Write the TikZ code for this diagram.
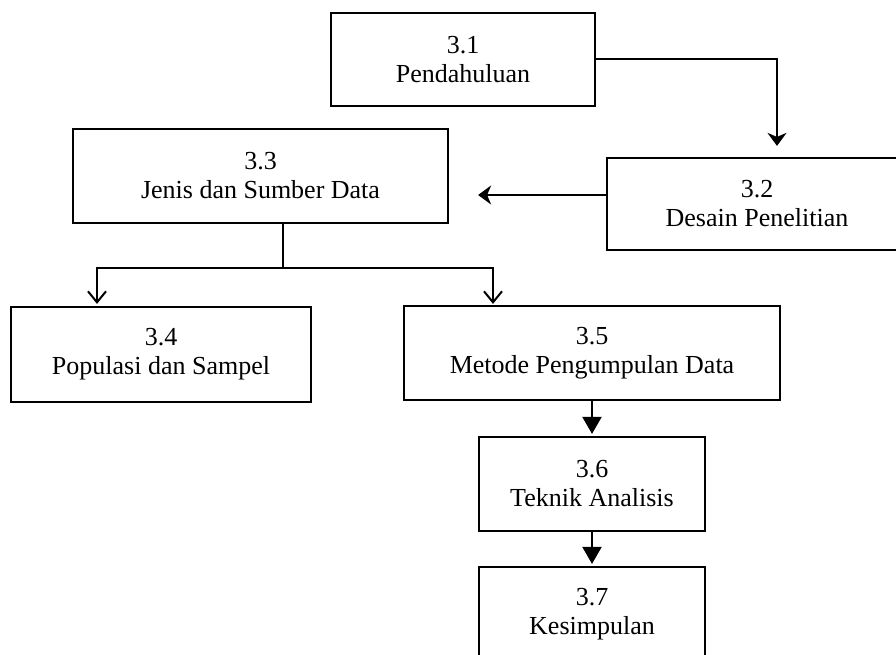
\documentclass[tikz,border=0pt]{standalone}
\usepackage{fontspec}
\setmainfont{Liberation Serif}
\usetikzlibrary{arrows.meta}

\begin{document}
\begin{tikzpicture}[x=1pt,y=-1pt,
  box/.style={draw, line width=2.2pt, rectangle, inner sep=0pt, align=center,
    font=\fontsize{26}{29}\selectfont},
  link/.style={line width=2pt},
  arrA/.style={link, -{Stealth[length=13pt,width=19pt,inset=4pt]}},
  arrV/.style={link, -{Straight Barb[length=11pt,width=18pt,line width=2pt]}},
  arrT/.style={link, -{Triangle[length=17pt,width=19pt]}}]
  \clip (0,0) rectangle (896,655);

  % chapter sections
  \node[box, minimum width=264pt, minimum height=93pt] (b31) at (463,59.5) {3.1\\Pendahuluan};
  \node[box, minimum width=300pt, minimum height=92pt] (b32) at (757,204) {3.2\\Desain Penelitian};
  \node[box, minimum width=375pt, minimum height=94pt] (b33) at (260.5,176) {3.3\\Jenis dan Sumber Data};
  \node[box, minimum width=300pt, minimum height=95pt] (b34) at (161,354.5) {3.4\\Populasi dan Sampel};
  \node[box, minimum width=376pt, minimum height=94pt] (b35) at (592,353) {3.5\\Metode Pengumpulan Data};
  \node[box, minimum width=226pt, minimum height=94pt] (b36) at (592,484) {3.6\\Teknik Analisis};
  \node[box, minimum width=226pt, minimum height=94pt] (b37) at (592,614) {3.7\\Kesimpulan};

  % flow between sections
  \draw[arrA, shorten >=11pt] (b31.east) -| ([xshift=20pt]b32.north);
  \draw[arrA, shorten >=29pt] ([yshift=9pt]b32.west) -- ([yshift=9pt]b32.west -| b33.east);

  \coordinate (split) at ([xshift=22.5pt,yshift=-44pt]b33.south);
  \draw[link] ([xshift=22.5pt]b33.south) -- (split);
  \draw[arrV, shorten >=2pt] (split) -| ([xshift=-64pt]b34.north);
  \draw[arrV, shorten >=1pt] (split) -| ([xshift=-99pt]b35.north);

  \draw[arrT, shorten >=2pt] (b35.south) -- (b36.north);
  \draw[arrT, shorten >=2pt] (b36.south) -- (b37.north);
\end{tikzpicture}
\end{document}
